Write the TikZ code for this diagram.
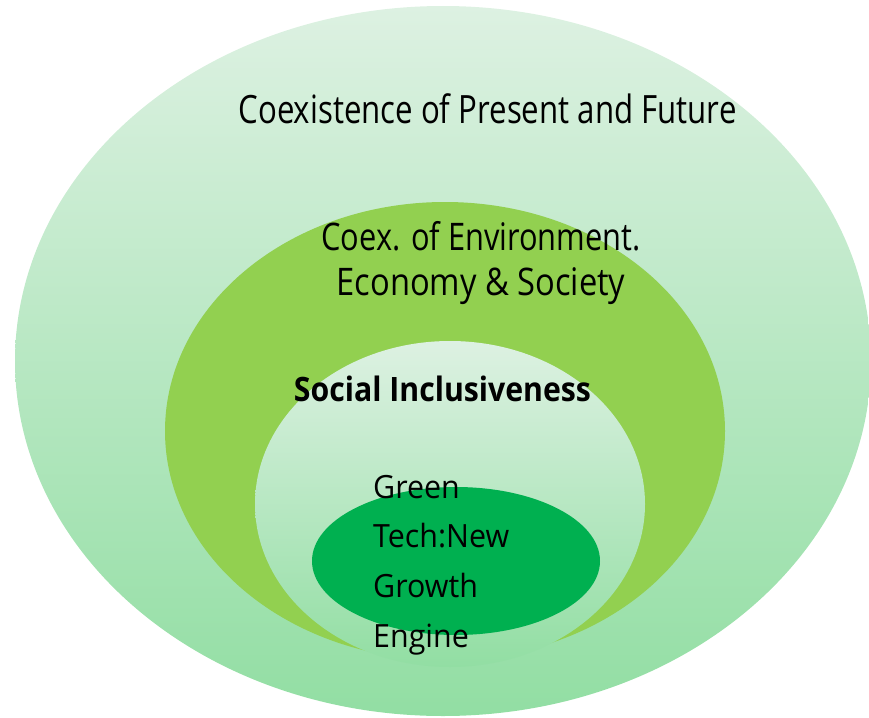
\documentclass[tikz,border=0pt]{standalone}
\usepackage{fontspec}
\usepackage{graphicx}
\setmainfont{Open Sans}
\definecolor{paleTop}{RGB}{221,241,226}
\definecolor{paleBot}{RGB}{146,222,163}
\definecolor{midGreen}{RGB}{146,208,80}
\definecolor{darkGreen}{RGB}{0,176,80}
\begin{document}
\begin{tikzpicture}[x=1pt,y=-1pt,
  pale/.style={top color=paleTop,bottom color=paleBot},
  lbl/.style={inner sep=0pt,anchor=base,text=black},
  lbll/.style={inner sep=0pt,anchor=base west,text=black,font=\fontsize{32}{32}\selectfont}]
\useasboundingbox (0,0) rectangle (869,717);
\shade[pale] (443,361) ellipse [x radius=428pt,y radius=355pt];
\fill[midGreen] (445,431) ellipse [x radius=280pt,y radius=229pt];
\shade[pale] (450,504) ellipse [x radius=195pt,y radius=163pt];
\fill[darkGreen] (456,561) ellipse [x radius=144pt,y radius=74pt];
\node[lbl,font=\fontsize{39}{39}\selectfont] (t1) at (487.5,123) {\scalebox{0.80}[1]{Coexistence of Present and Future}};
\node[lbl,font=\fontsize{38}{38}\selectfont] (t2) at (481,250) {\scalebox{0.81}[1]{Coex. of Environment.}};
\node[lbl,font=\fontsize{38}{38}\selectfont] (t3) at (481,295) {\scalebox{0.86}[1]{Economy \& Society}};
\node[lbl,font=\fontsize{33.6}{33.6}\selectfont\bfseries] (t4) at (442.5,401) {\scalebox{0.90}[1]{Social Inclusiveness}};
\node[lbll] (g1) at (373,498) {\scalebox{0.95}[1]{Green}};
\node[lbll] (g2) at (373,547) {\scalebox{0.95}[1]{Tech:New}};
\node[lbll] (g3) at (373,597) {\scalebox{0.95}[1]{Growth}};
\node[lbll] (g4) at (373,647) {\scalebox{0.95}[1]{Engine}};
\end{tikzpicture}
\end{document}
